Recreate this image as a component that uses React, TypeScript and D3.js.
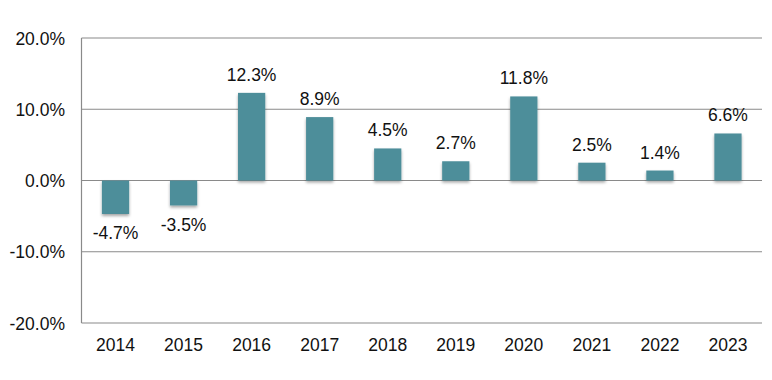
import React from "react";
import * as d3 from "d3";

const years = ["2014", "2015", "2016", "2017", "2018", "2019", "2020", "2021", "2022", "2023"];
const values = [-4.7, -3.5, 12.3, 8.9, 4.5, 2.7, 11.8, 2.5, 1.4, 6.6];
const yTicks = [-20, -10, 0, 10, 20];

const W = 772;
const H = 380;
const m = { left: 81.5, right: 10, top: 38, bottom: 57 };

export default function App() {
  const x = d3.scaleBand<string>().domain(years).range([m.left, W - m.right]).paddingInner(0.6).paddingOuter(0.3);
  const y = d3.scaleLinear().domain([-20, 20]).range([H - m.bottom, m.top]);
  const fmt = (v: number) => v.toFixed(1) + "%";
  const font = "'Liberation Sans', Arial, sans-serif";
  const fs = 17.5;
  return (
    <svg width={W} height={H} style={{ position: "absolute", left: 0, top: 0, background: "#fff" }}>
      <defs>
        <filter id="sh" x="-20%" y="-20%" width="140%" height="160%">
          <feDropShadow dx="0" dy="2" stdDeviation="1.5" floodColor="#000" floodOpacity="0.35" />
        </filter>
      </defs>
      {yTicks.map((t) => (
        <g key={t}>
          <line x1={m.left} x2={W - m.right} y1={y(t)} y2={y(t)} stroke="#8a8a8a" strokeWidth={1.2} />
          <text x={65} y={y(t) + 6.5} textAnchor="end" fontFamily={font} fontSize={fs} fill="#111">
            {fmt(t)}
          </text>
        </g>
      ))}
      <line x1={m.left} x2={m.left} y1={m.top} y2={H - m.bottom} stroke="#8a8a8a" strokeWidth={1.2} />
      {years.map((yr, i) => {
        const v = values[i];
        const bx = x(yr)!;
        const bw = x.bandwidth();
        const top = y(Math.max(0, v));
        const h = Math.abs(y(v) - y(0));
        const cx = bx + bw / 2;
        return (
          <g key={yr}>
            <rect x={bx} y={top} width={bw} height={h} fill="#4e8e9a" filter="url(#sh)" />
            <text
              x={cx}
              y={v >= 0 ? y(v) - 12 : y(v) + 25.5}
              textAnchor="middle"
              fontFamily={font}
              fontSize={fs}
              fill="#111"
            >
              {fmt(v)}
            </text>
            <text x={cx} y={351} textAnchor="middle" fontFamily={font} fontSize={fs} fill="#111">
              {yr}
            </text>
          </g>
        );
      })}
    </svg>
  );
}
